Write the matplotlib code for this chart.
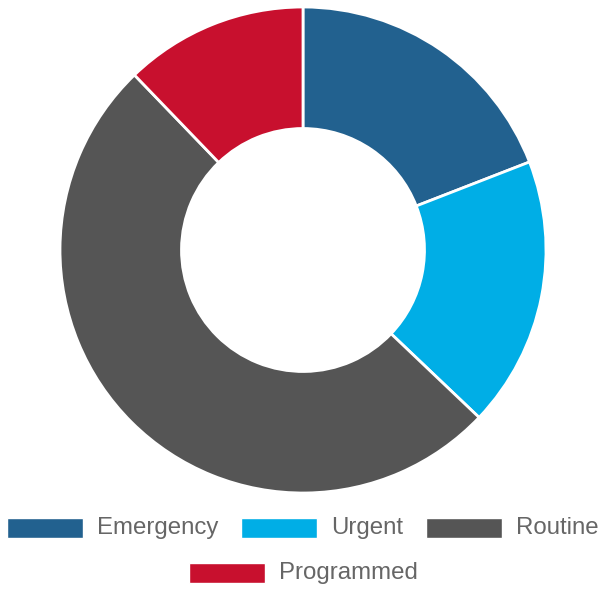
import matplotlib
matplotlib.use("Agg")
import matplotlib.pyplot as plt
from matplotlib.patches import Rectangle

categories = ["Emergency", "Urgent", "Routine", "Programmed"]
values = [19.1, 18.0, 50.7, 12.2]
colors = ["#22618F", "#00AEE6", "#555555", "#C8102E"]

W, H = 602, 591
fig = plt.figure(figsize=(W / 100, H / 100), dpi=100)
plt.rcParams['font.family'] = ['Liberation Sans', 'DejaVu Sans']

cx, cy, R = 303, 250, 243
ax = fig.add_axes([(cx - R) / W, (H - cy - R) / H, 2 * R / W, 2 * R / H])
ax.pie(values, colors=colors, startangle=90, counterclock=False, radius=1,
       wedgeprops=dict(width=0.5, edgecolor="white", linewidth=2))
ax.set_xlim(-1, 1)
ax.set_ylim(-1, 1)
ax.set_aspect("equal")
ax.axis("off")

# legend drawn manually (chart.js style, centered rows)
fs = 17.3
box_w, box_h, gap_t, gap_i = 76, 20, 14, 23
rows = [[0, 1, 2], [3]]
row_y = [528, 573]
renderer = fig.canvas.get_renderer()
for r, idxs in enumerate(rows):
    widths = []
    for i in idxs:
        t = fig.text(0, 0, categories[i], fontsize=fs)
        bb = t.get_window_extent(renderer=renderer)
        widths.append(bb.width)
        t.remove()
    total = sum(box_w + gap_t + w for w in widths) + gap_i * (len(idxs) - 1)
    x = W / 2 + 2 - total / 2
    y = row_y[r]
    for i, w in zip(idxs, widths):
        fig.patches.append(Rectangle(((x) / W, (H - y - box_h / 2) / H), box_w / W, box_h / H,
                                     transform=fig.transFigure, facecolor=colors[i],
                                     edgecolor="white", linewidth=1, figure=fig))
        fig.text((x + box_w + gap_t) / W, (H - y) / H, categories[i], fontsize=fs,
                 color="#666666", va="center", ha="left")
        x += box_w + gap_t + w + gap_i

fig.savefig("out.png", dpi=100)
